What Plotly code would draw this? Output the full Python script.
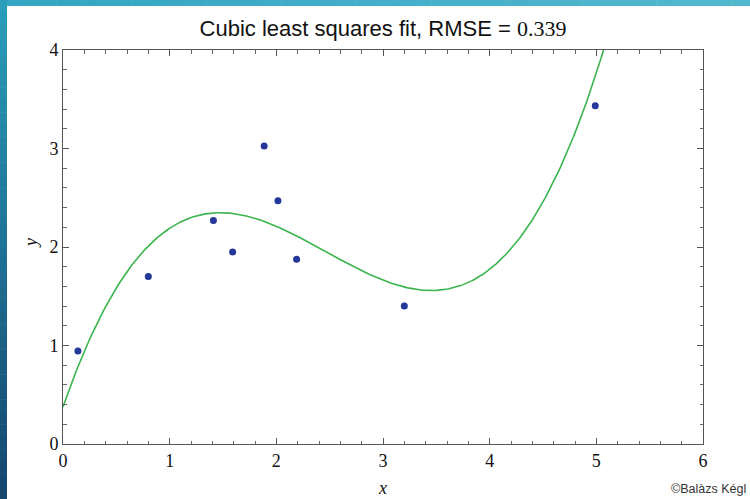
import numpy as np
import plotly.graph_objects as go

# data
x_pts = [0.14, 0.80, 1.41, 1.59, 1.886, 2.015, 2.19, 3.20, 4.99]
y_pts = [0.945, 1.70, 2.27, 1.95, 3.025, 2.47, 1.875, 1.40, 3.435]
# samples of the fitted cubic curve
curve_x = [0.0, 1.50, 2.503, 3.472, 4.379, 4.817, 5.083]
curve_y = [0.375, 2.354, 1.935, 1.540, 2.205, 3.319, 3.985]
x_ticks = [0, 1, 2, 3, 4, 5, 6]
y_ticks = [0, 1, 2, 3, 4]
title_text = "Cubic least squares fit, RMSE = "
rmse_text = "0.339"

coef = np.polyfit(curve_x, curve_y, 3)
xs = np.linspace(0, 6, 500)
ys = np.polyval(coef, xs)

fig = go.Figure()
fig.add_trace(go.Scatter(x=xs, y=ys, mode="lines",
                         line=dict(color="#3cb54e", width=1.6), hoverinfo="skip"))
fig.add_trace(go.Scatter(x=x_pts, y=y_pts, mode="markers",
                         marker=dict(color="#23389a", size=7)))

W, H = 750, 499
L, R, T, B = 63, 47, 50, 55
pw, ph = W - L - R, H - T - B


def px_x(p):
    return (p - L) / pw


def px_y(p):
    return (H - B - p) / ph


def lerp(c1, c2, t):
    return "rgb(%d,%d,%d)" % tuple(round(a + (b - a) * t) for a, b in zip(c1, c2))


shapes = []
n = 40
top_c, bot_c = (42, 157, 186), (20, 70, 110)
for i in range(n):
    t = i / (n - 1)
    y0 = i * H / n
    y1 = (i + 1) * H / n + 0.5
    shapes.append(dict(type="rect", xref="paper", yref="paper", layer="below",
                       x0=px_x(0), x1=px_x(7), y0=px_y(y1), y1=px_y(y0),
                       fillcolor=lerp(top_c, bot_c, t), line=dict(width=0)))
left_c, right_c = (52, 165, 194), (82, 184, 206)
for i in range(n):
    t = i / (n - 1)
    x0 = i * W / n
    x1 = (i + 1) * W / n + 0.5
    shapes.append(dict(type="rect", xref="paper", yref="paper", layer="below",
                       x0=px_x(max(x0, 7)), x1=px_x(x1), y0=px_y(6), y1=px_y(0),
                       fillcolor=lerp(left_c, right_c, t), line=dict(width=0)))

axis_common = dict(showgrid=False, zeroline=False, showline=True, mirror="ticks",
                   linecolor="#555555", linewidth=1, ticks="inside", ticklen=6,
                   tickcolor="#555555", tickwidth=1,
                   tickfont=dict(family="Liberation Serif", size=18, color="#111111"))
minor_common = dict(ticks="inside", ticklen=3.5, tickcolor="#666666", tickwidth=1,
                    dtick=0.2, showgrid=False)

fig.update_layout(
    width=W, height=H,
    margin=dict(l=L, r=R, t=T, b=B),
    paper_bgcolor="white", plot_bgcolor="white",
    showlegend=False,
    shapes=shapes,
    title=dict(text=title_text + '<span style="font-family:Liberation Serif">' + rmse_text + "</span>",
               x=0.5, xref="paper", xanchor="center", y=1 - 28 / H, yanchor="middle",
               font=dict(family="Liberation Sans", size=22, color="#111111")),
    xaxis=dict(range=[0, 6], tickvals=x_ticks, ticktext=[str(v) for v in x_ticks],
               minor=minor_common, **axis_common),
    yaxis=dict(range=[0, 4], tickvals=y_ticks, ticktext=[str(v) for v in y_ticks],
               minor=minor_common, **axis_common),
    annotations=[
        dict(text="<i>x</i>", xref="paper", yref="paper", x=px_x(382), y=px_y(488),
             xanchor="center", yanchor="middle",
             showarrow=False, font=dict(family="Liberation Serif", size=18, color="#111111")),
        dict(text="<i>y</i>", xref="paper", yref="paper", x=px_x(31), y=px_y(243),
             xanchor="center", yanchor="middle",
             showarrow=False, textangle=-90,
             font=dict(family="Liberation Serif", size=18, color="#111111")),
        dict(text="©Balàzs Kégl", xref="paper", yref="paper", x=px_x(748), y=px_y(489),
             xanchor="right", yanchor="middle", showarrow=False,
             font=dict(family="Liberation Sans", size=12.5, color="#333333")),
    ],
)

fig.write_html("out.html")
